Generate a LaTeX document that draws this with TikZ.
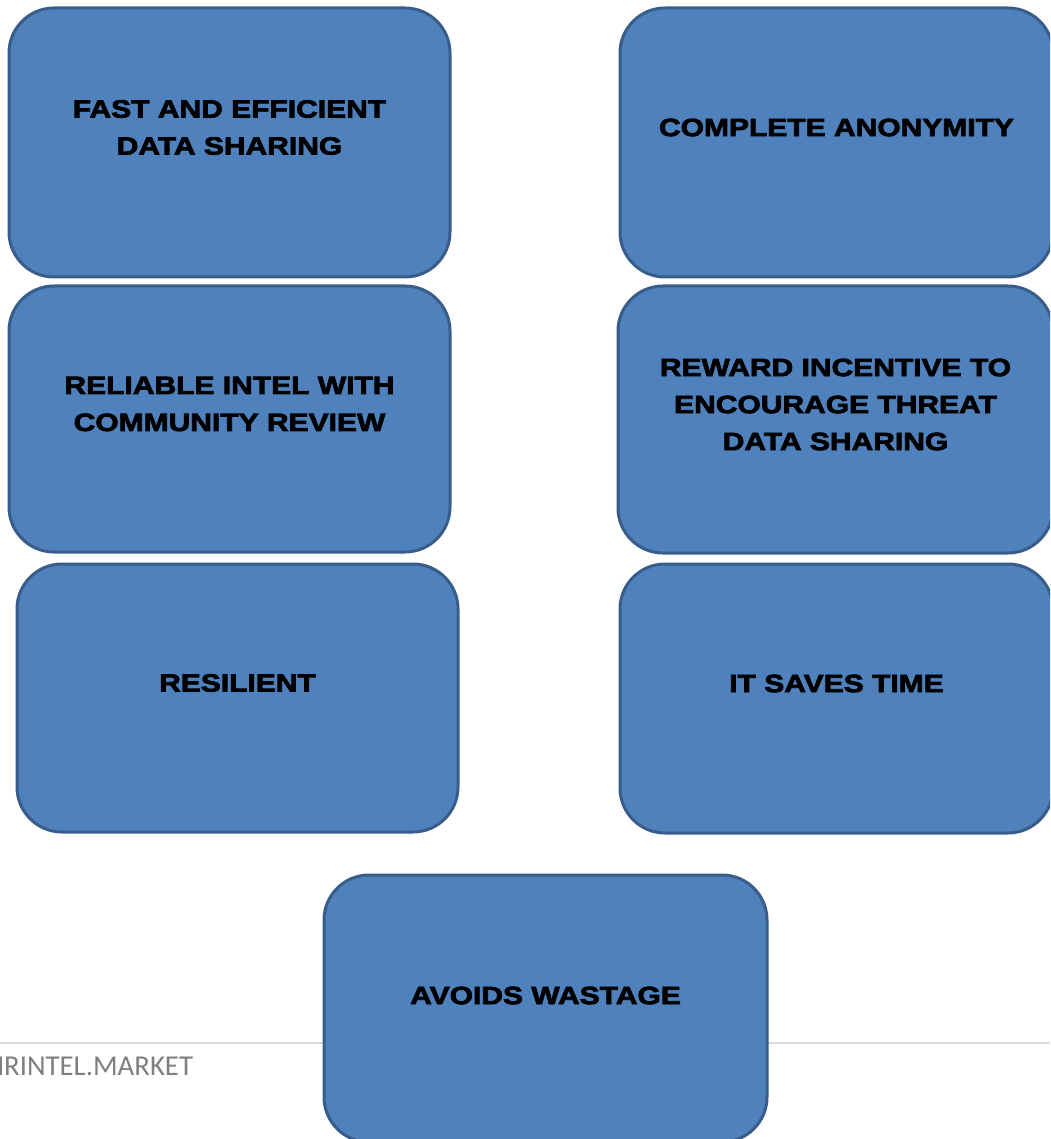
\documentclass[tikz,border=0pt]{standalone}
\usepackage{fontspec}
\newfontfamily\boxfont[FakeStretch=1.2,FakeBold=3]{Liberation Sans Bold}
\newfontfamily\footfont{Carlito}
\definecolor{boxfill}{HTML}{4F81BD}
\definecolor{boxline}{HTML}{385D8A}
\definecolor{footgray}{HTML}{7F7F7F}
\definecolor{rulegray}{HTML}{D9D9D9}
\begin{document}
\begin{tikzpicture}[x=1pt,y=-1pt,
  card/.style={draw=boxline, fill=boxfill, line width=3pt, rounded corners=45pt},
  cardtext/.style={font=\boxfont\fontsize{25}{37}\selectfont, align=center, text=black, inner sep=0pt},
]
\useasboundingbox (0,0) rectangle (1050,1139);
\clip (0,0) rectangle (1050,1139);
% footer
\coordinate (rl) at (0,1043);
\coordinate (rr) at (1050,1043);
\draw[rulegray, line width=1.5pt] (rl) -- (rr);
\node[anchor=base west, inner sep=0pt, text=footgray, font=\footfont\fontsize{28.8}{32}\selectfont] (foot) at (-14,1075) {HRINTEL.MARKET};
% boxes
\path[card] (9,8) rectangle (450,277) node[midway] (b1) {};
\path[card] (620,8) rectangle (1053,277) node[midway] (b2) {};
\path[card] (9,286) rectangle (450,552) node[midway] (b3) {};
\path[card] (618,286) rectangle (1053,553) node[midway] (b4) {};
\path[card] (17,564) rectangle (458,832) node[midway] (b5) {};
\path[card] (620,564) rectangle (1053,833) node[midway] (b6) {};
\path[card] (324,875) rectangle (767,1142) node[midway] (b7) {};
% texts
\node[cardtext] (t1) at ([yshift=15pt]b1.center) {FAST AND EFFICIENT\\DATA SHARING};
\node[cardtext] (t2) at ([yshift=15pt]b2.center) {COMPLETE ANONYMITY};
\node[cardtext] (t3) at ([yshift=15pt]b3.center) {RELIABLE INTEL WITH\\COMMUNITY REVIEW};
\node[cardtext] (t4) at ([yshift=15pt]b4.center) {REWARD INCENTIVE TO\\ENCOURAGE THREAT\\DATA SHARING};
\node[cardtext] (t5) at ([yshift=15pt]b5.center) {RESILIENT};
\node[cardtext] (t6) at ([yshift=15pt]b6.center) {IT SAVES TIME};
\node[cardtext] (t7) at ([yshift=13pt]b7.center) {AVOIDS WASTAGE};
\end{tikzpicture}
\end{document}
